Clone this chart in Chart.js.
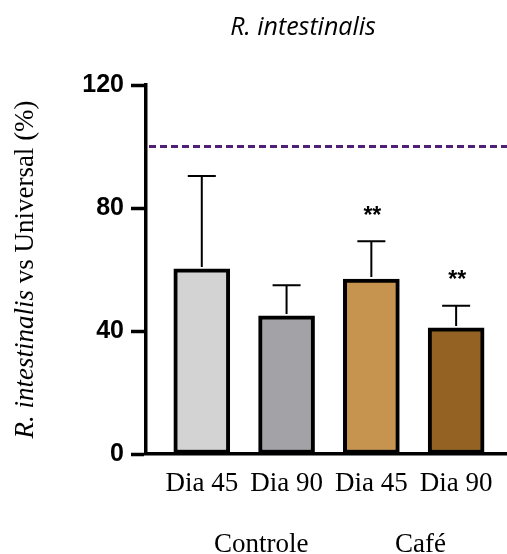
<!DOCTYPE html>
<html>
<head>
<meta charset="utf-8">
<script src="https://cdn.jsdelivr.net/npm/chart.js@4.4.1/dist/chart.umd.min.js"></script>
<style>
  html, body { margin: 0; padding: 0; background: #fff; }
  #wrap { width: 507px; height: 554px; position: relative; }
</style>
</head>
<body>
<div id="wrap"><canvas id="c" width="507" height="554"></canvas></div>
<script>
// ---- data ----
const categories = ['Dia 45', 'Dia 90', 'Dia 45', 'Dia 90'];
const groups = ['Controle', 'Café'];
const means = [60.2, 44.9, 56.9, 41.0];
const errTop = [90.4, 54.9, 69.2, 48.2];
const signif = ['', '', '**', '**'];
const refLine = 100;
const yTicks = [0, 40, 80, 120];
const barColors = ['#d3d3d3', '#a3a2a7', '#c6944f', '#946222'];

// ---- layout constants ----
const groupPos = [0.7, 2.58];

const errorBars = {
  id: 'errorBars',
  afterDatasetsDraw(chart) {
    const ctx = chart.ctx, xs = chart.scales.x, ys = chart.scales.y;
    ctx.save();
    ctx.strokeStyle = '#000';
    ctx.lineWidth = 2;
    means.forEach((m, i) => {
      const x = xs.getPixelForValue(i);
      const y0 = ys.getPixelForValue(m);
      const y1 = ys.getPixelForValue(errTop[i]);
      ctx.beginPath();
      ctx.moveTo(x, y0 - 2);
      ctx.lineTo(x, y1);
      ctx.moveTo(x - 14, y1);
      ctx.lineTo(x + 14, y1);
      ctx.stroke();
      if (signif[i]) {
        ctx.fillStyle = '#000';
        ctx.font = 'bold 23px "Liberation Sans", Arial, sans-serif';
        ctx.textAlign = 'center';
        ctx.textBaseline = 'alphabetic';
        ctx.fillText(signif[i], x + 1, y1 - 18.5);
      }
    });
    // reference dashed line
    const yr = ys.getPixelForValue(refLine);
    ctx.strokeStyle = '#521f78';
    ctx.lineWidth = 3;
    ctx.setLineDash([7, 4]);
    ctx.beginPath();
    ctx.moveTo(chart.chartArea.left + 3, yr);
    ctx.lineTo(chart.width, yr);
    ctx.stroke();
    ctx.restore();
  }
};

const texts = {
  id: 'texts',
  afterDraw(chart) {
    const ctx = chart.ctx, xs = chart.scales.x, ys = chart.scales.y;
    ctx.save();
    ctx.fillStyle = '#000';
    // title
    ctx.font = 'italic 25px "Open Sans", Lato, sans-serif';
    ctx.textAlign = 'center';
    ctx.textBaseline = 'alphabetic';
    ctx.fillText('R. intestinalis', 303, 35);
    // group labels
    ctx.font = '27px "Liberation Serif", "Times New Roman", serif';
    groups.forEach((g, i) => {
      ctx.fillText(g, xs.getPixelForValue(groupPos[i]), 552);
    });
    // y axis title (mixed italic)
    const parts = [
      ['italic 27px "Liberation Serif", "Times New Roman", serif', 'R. intestinalis'],
      ['27px "Liberation Serif", "Times New Roman", serif', ' vs Universal (%)']
    ];
    let total = 0;
    parts.forEach(p => { ctx.font = p[0]; total += ctx.measureText(p[1]).width; });
    const cy = (ys.getPixelForValue(0) + ys.getPixelForValue(120)) / 2;
    ctx.translate(33, cy);
    ctx.rotate(-Math.PI / 2);
    ctx.textAlign = 'left';
    let xx = -total / 2;
    parts.forEach(p => {
      ctx.font = p[0];
      ctx.fillText(p[1], xx, 0);
      xx += ctx.measureText(p[1]).width;
    });
    ctx.restore();
  }
};

new Chart(document.getElementById('c'), {
  type: 'bar',
  data: {
    datasets: [{
      data: means.map((v, i) => ({ x: i, y: v })),
      backgroundColor: barColors,
      borderColor: '#000',
      borderWidth: 4,
      borderSkipped: false,
      barThickness: 56
    }]
  },
  options: {
    responsive: false,
    animation: false,
    devicePixelRatio: 1,
    layout: { padding: { top: 85, right: 0, left: 0, bottom: 0 } },
    plugins: { legend: { display: false }, tooltip: { enabled: false }, title: { display: false } },
    scales: {
      x: {
        type: 'linear',
        offset: false,
        min: -0.658,
        max: 3.6,
        grid: { display: false, offset: false },
        border: { display: true, color: '#000', width: 3.5 },
        afterBuildTicks: s => { s.ticks = categories.map((c, i) => ({ value: i })); },
        afterFit: s => { s.height = 100; },
        ticks: {
          autoSkip: false,
          maxRotation: 0,
          color: '#000',
          padding: 6,
          font: { family: '"Liberation Serif", "Times New Roman", serif', size: 27 },
          callback: v => categories[v] ?? ''
        }
      },
      y: {
        min: 0,
        max: 120,
        afterBuildTicks: s => { s.ticks = yTicks.map(v => ({ value: v })); },
        afterFit: s => { s.width = 146; },
        grid: { display: true, drawOnChartArea: false, drawTicks: true, tickLength: 15, tickWidth: 3.5, tickColor: '#000', color: '#000' },
        border: { display: true, color: '#000', width: 3.5 },
        ticks: {
          color: '#000',
          padding: 7,
          font: { family: '"Liberation Sans", Arial, sans-serif', size: 25, weight: 'bold' }
        }
      }
    }
  },
  plugins: [errorBars, texts]
});
</script>
</body>
</html>
